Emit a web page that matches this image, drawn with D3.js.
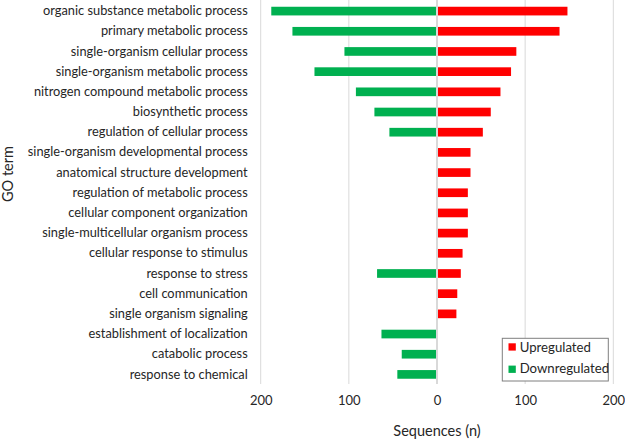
<!DOCTYPE html>
<html><head><meta charset="utf-8">
<script src="https://cdn.jsdelivr.net/npm/d3@7"></script>
<style>
body{margin:0;background:#fff;}
svg{display:block;font-family:Lato,"Open Sans",sans-serif;}
</style></head>
<body><svg id="c" width="625" height="441"></svg>
<script>
const categories = [
 "organic substance metabolic process","primary metabolic process","single-organism cellular process",
 "single-organism metabolic process","nitrogen compound metabolic process","biosynthetic process",
 "regulation of cellular process","single-organism developmental process","anatomical structure development",
 "regulation of metabolic process","cellular component organization","single-multicellular organism process",
 "cellular response to stimulus","response to stress","cell communication","single organism signaling",
 "establishment of localization","catabolic process","response to chemical"];
const upregulated   = [148,139,90,84,72,61,52,38,38,35,35,35,29,27,23,22,0,0,0];
const downregulated = [188,164,105,139,92,71,54,0,0,0,0,0,0,68,0,0,63,40,45];
const xTicks = [-200,-100,0,100,200];
const seriesNames = ["Upregulated","Downregulated"];
const colors = ["#FF0000","#00B050"];

const svg = d3.select("#c");
const x = d3.scaleLinear().domain([-200,200]).range([260.7,613.3]);
const y = d3.scaleBand().domain(categories).range([1,384.5]).paddingInner(0.57).paddingOuter(0.285);

// gridlines
svg.append("g").selectAll("line").data(xTicks.filter(d=>d!==0)).join("line")
  .attr("x1",d=>x(d)).attr("x2",d=>x(d)).attr("y1",0).attr("y2",384)
  .attr("stroke","#d9d9d9").attr("stroke-width",1);

const rows = categories.map((c,i)=>({c,up:upregulated[i],down:downregulated[i]}));
svg.append("g").selectAll("rect").data(rows.filter(r=>r.up>0)).join("rect")
  .attr("x",x(0)).attr("width",d=>x(d.up)-x(0)).attr("y",d=>y(d.c)).attr("height",y.bandwidth())
  .attr("fill",colors[0]);
svg.append("g").selectAll("rect").data(rows.filter(r=>r.down>0)).join("rect")
  .attr("x",d=>x(-d.down)).attr("width",d=>x(0)-x(-d.down)).attr("y",d=>y(d.c)).attr("height",y.bandwidth())
  .attr("fill",colors[1]);

// zero axis line
svg.append("line").attr("x1",x(0)).attr("x2",x(0)).attr("y1",0).attr("y2",384)
  .attr("stroke","#d9d9d9").attr("stroke-width",2);

// y axis labels
const ya = svg.append("g").attr("transform",`translate(${x(-200)},0)`)
  .call(d3.axisLeft(y).tickSize(0).tickPadding(13));
ya.select(".domain").remove();
ya.selectAll("text").attr("font-family","Lato,sans-serif").attr("font-size",12.8).attr("fill","#262626");

// x axis
const xa = svg.append("g").attr("transform","translate(0,384)")
  .call(d3.axisBottom(x).tickValues(xTicks).tickFormat(d=>Math.abs(d)).tickSize(0).tickPadding(12));
xa.select(".domain").remove();
xa.selectAll("text").attr("font-family","Lato,sans-serif").attr("font-size",13).attr("fill","#262626");

// axis titles
svg.append("text").attr("x",437).attr("y",436).attr("text-anchor","middle")
  .attr("font-size",14.5).attr("fill","#262626").text("Sequences (n)");
svg.append("text").attr("transform","translate(13,174) rotate(-90)").attr("text-anchor","middle")
  .attr("font-size",14.5).attr("fill","#262626").text("GO term");

// legend
const lg = svg.append("g");
lg.append("rect").attr("x",502.3).attr("y",338.3).attr("width",106).attr("height",42.7)
  .attr("fill","#fff").attr("stroke","#7f7f7f").attr("stroke-width",1);
seriesNames.forEach((n,i)=>{
  lg.append("rect").attr("x",508.5).attr("y",343.3+i*22.3).attr("width",7.3).attr("height",7.3).attr("fill",colors[i]);
  lg.append("text").attr("x",519.7).attr("y",347+i*21.5).attr("dy","0.35em")
    .attr("font-size",13.2).attr("fill","#262626").text(n);
});
</script></body></html>
